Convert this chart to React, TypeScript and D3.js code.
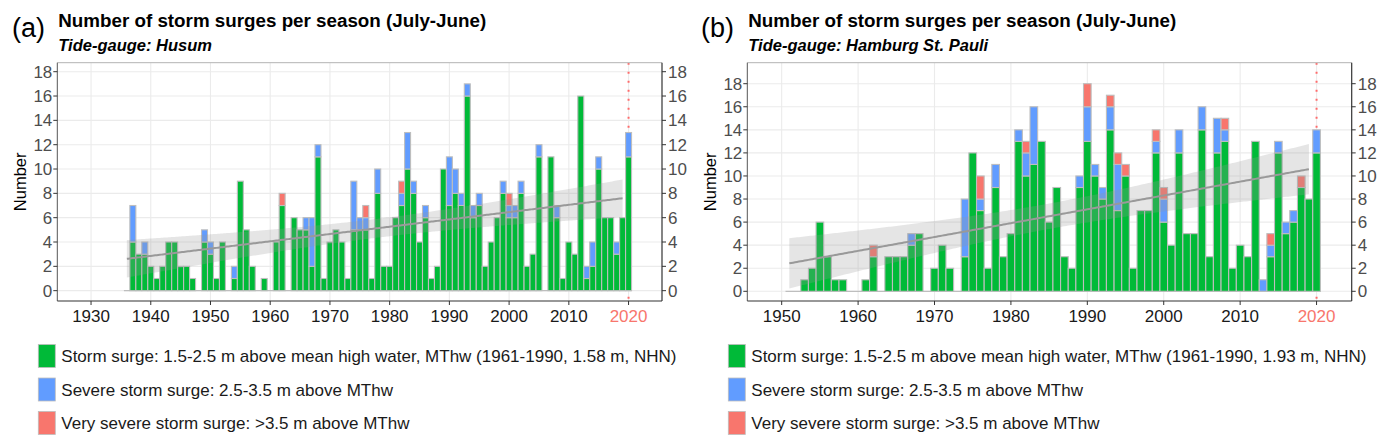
import React from 'react';
import * as d3 from 'd3';

// Husum, seasons 1936/37 .. 2020 (stacked: green, blue, red)
const yearsA = d3.range(1936, 2021);
const greenA = [0, 4, 3, 3, 2, 1, 2, 4, 4, 2, 2, 1, 0, 4, 3, 1, 4, 0, 1, 9, 5, 2, 0, 1, 0, 4, 7, 0, 6, 5,
  5, 2, 11, 1, 4, 5, 4, 1, 5, 5, 5, 1, 8, 2, 2, 6, 7, 10, 8, 4, 6, 1, 2, 10, 7, 8, 7, 16, 6, 7,
  2, 4, 6, 8, 6, 6, 8, 2, 3, 11, 0, 11, 6, 1, 4, 3, 16, 1, 2, 10, 6, 6, 3, 6, 11];
const blueA = [0, 3, 0, 1, 0, 0, 0, 0, 0, 0, 0, 0, 0, 1, 1, 0, 0, 0, 1, 0, 0, 0, 0, 0, 0, 0, 0, 0, 0, 0,
  1, 4, 1, 0, 0, 0, 0, 0, 4, 1, 1, 0, 2, 0, 0, 0, 1, 3, 1, 0, 1, 0, 0, 0, 4, 2, 1, 1, 1, 1,
  0, 0, 0, 1, 1, 1, 1, 0, 0, 1, 0, 0, 1, 0, 0, 0, 0, 1, 2, 1, 0, 0, 1, 0, 2];
const redA = [0, 0, 0, 0, 0, 0, 0, 0, 0, 0, 0, 0, 0, 0, 0, 0, 0, 0, 0, 0, 0, 0, 0, 0, 0, 0, 1, 0, 0, 0,
  0, 0, 0, 0, 0, 0, 0, 0, 0, 0, 1, 0, 0, 0, 0, 0, 1, 0, 0, 0, 0, 0, 0, 0, 0, 0, 0, 0, 0, 0,
  0, 0, 0, 0, 1, 0, 0, 0, 0, 0, 0, 0, 0, 0, 0, 0, 0, 0, 0, 0, 0, 0, 0, 0, 0];

// Hamburg St. Pauli, seasons 1951 .. 2020
const yearsB = d3.range(1951, 2021);
const greenB = [0, 0, 1, 2, 6, 3, 1, 1, 0, 0, 1, 3, 0, 3, 3, 3, 4, 5, 0, 2,
  4, 2, 0, 3, 12, 7, 2, 9, 3, 5, 13, 10, 11, 13, 6, 9, 3, 2, 9, 13,
  10, 8, 14, 7, 10, 2, 7, 7, 12, 6, 4, 12, 5, 5, 14, 3, 12, 13, 2, 4,
  3, 13, 0, 3, 12, 5, 6, 9, 8, 12];
const blueB = [0, 0, 0, 0, 0, 0, 0, 0, 0, 0, 0, 0, 0, 0, 0, 0, 1, 0, 0, 0,
  0, 0, 0, 5, 0, 1, 0, 2, 0, 0, 1, 2, 5, 0, 0, 0, 0, 0, 1, 3,
  1, 1, 2, 4, 0, 0, 0, 0, 1, 2, 0, 2, 0, 0, 2, 0, 3, 1, 0, 0,
  0, 0, 1, 1, 1, 1, 1, 0, 0, 2];
const redB = [0, 0, 0, 0, 0, 0, 0, 0, 0, 0, 0, 1, 0, 0, 0, 0, 0, 0, 0, 0,
  0, 0, 0, 0, 0, 2, 0, 0, 0, 0, 0, 1, 0, 0, 0, 0, 0, 0, 0, 2,
  0, 0, 1, 1, 1, 0, 0, 0, 1, 1, 0, 0, 0, 0, 0, 0, 0, 1, 0, 0,
  0, 0, 0, 1, 0, 0, 0, 1, 0, 0];

const xTicksA = [1930, 1940, 1950, 1960, 1970, 1980, 1990, 2000, 2010, 2020];
const xTicksB = [1950, 1960, 1970, 1980, 1990, 2000, 2010, 2020];
const yTicks = [0, 2, 4, 6, 8, 10, 12, 14, 16, 18];
const lastFitYear = 2019;
const markYear = 2020;

const legendA = [
  'Storm surge: 1.5-2.5 m above mean high water, MThw (1961-1990, 1.58 m, NHN)',
  'Severe storm surge: 2.5-3.5 m above MThw',
  'Very severe storm surge: >3.5 m above MThw',
];
const legendB = [
  'Storm surge: 1.5-2.5 m above mean high water, MThw (1961-1990, 1.93 m, NHN)',
  'Severe storm surge: 2.5-3.5 m above MThw',
  'Very severe storm surge: >3.5 m above MThw',
];

const GREEN = '#00BA38';
const BLUE = '#619CFF';
const RED = '#F8766D';
const FONT = '"Liberation Sans", Arial, sans-serif';

interface PanelProps {
  tag: string;
  gauge: string;
  years: number[];
  green: number[];
  blue: number[];
  red: number[];
  xTicks: number[];
  xDomain: [number, number];
  yDomain: [number, number];
  left: number;
  right: number;
  legend: string[];
  tagX: number;
  labelX: number;
}

const top = 62.7;
const bottom = 301;

// lm fit with 95% confidence band, like geom_smooth(method = "lm")
function fitLine(xs: number[], ys: number[]) {
  const n = xs.length;
  const mx = d3.mean(xs) as number;
  const my = d3.mean(ys) as number;
  const sxx = d3.sum(xs, (x) => (x - mx) ** 2);
  const sxy = d3.sum(xs, (x, i) => (x - mx) * (ys[i] - my));
  const b = sxy / sxx;
  const a = my - b * mx;
  const rss = d3.sum(xs, (x, i) => (ys[i] - (a + b * x)) ** 2);
  const s = Math.sqrt(rss / (n - 2));
  const t = 1.99;
  const grid = d3.range(xs[0], xs[n - 1] + 0.001, 0.25);
  return grid.map((x) => {
    const fit = a + b * x;
    const se = s * Math.sqrt(1 / n + (x - mx) ** 2 / sxx);
    return { x, fit, lo: fit - t * se, hi: fit + t * se };
  });
}

const Panel: React.FC<PanelProps> = (p) => {
  const x = d3.scaleLinear().domain(p.xDomain).range([p.left, p.right]);
  const y = d3.scaleLinear().domain(p.yDomain).range([bottom, top]);
  const totals = p.years.map((_, i) => p.green[i] + p.blue[i] + p.red[i]);
  const fitIdx = p.years.map((yr, i) => i).filter((i) => p.years[i] <= lastFitYear);
  const band = fitLine(fitIdx.map((i) => p.years[i]), fitIdx.map((i) => totals[i]));

  const area = d3.area<{ x: number; lo: number; hi: number }>()
    .x((d) => x(d.x)).y0((d) => y(d.lo)).y1((d) => y(d.hi));
  const line = d3.line<{ x: number; fit: number }>()
    .x((d) => x(d.x)).y((d) => y(d.fit));

  const clipId = `clip-${p.tag}`;
  const x0 = p.years[0] - 0.5;
  const x1 = p.years[p.years.length - 1] + 0.5;

  return (
    <g>
      <defs>
        <clipPath id={clipId}>
          <rect x={p.left} y={top} width={p.right - p.left} height={bottom - top} />
        </clipPath>
      </defs>
      <text x={p.tagX} y={37} fontSize={27} fill="#000">({p.tag})</text>
      <text x={p.left + 1} y={27} fontSize={18.8} fontWeight="bold" fill="#000">
        Number of storm surges per season (July-June)
      </text>
      <text x={p.left + 1} y={50.5} fontSize={16.5} fontWeight="bold" fontStyle="italic" fill="#000">
        Tide-gauge: {p.gauge}
      </text>

      <rect x={p.left} y={top} width={p.right - p.left} height={bottom - top} fill="#fff" />
      <g clipPath={`url(#${clipId})`}>
        {yTicks.map((t) => (
          <line key={`gy${t}`} x1={p.left} x2={p.right} y1={y(t)} y2={y(t)} stroke="#EBEBEB" strokeWidth={1.1} />
        ))}
        {p.xTicks.map((t) => (
          <line key={`gx${t}`} x1={x(t)} x2={x(t)} y1={top} y2={bottom} stroke="#EBEBEB" strokeWidth={1.1} />
        ))}
        <line x1={x(markYear)} x2={x(markYear)} y1={top} y2={bottom} stroke="#FF6B6B" strokeWidth={2} strokeDasharray="2,7" />
        <line x1={x(x0)} x2={x(x1)} y1={y(0)} y2={y(0)} stroke="#BEBEBE" strokeWidth={1.2} />
        {p.years.map((yr, i) => {
          const segs = [
            { v: p.green[i], c: GREEN, b: 0 },
            { v: p.blue[i], c: BLUE, b: p.green[i] },
            { v: p.red[i], c: RED, b: p.green[i] + p.blue[i] },
          ];
          return segs.filter((s) => s.v > 0).map((s, k) => (
            <rect key={`${yr}-${k}`} x={x(yr - 0.5)} width={x(yr + 0.5) - x(yr - 0.5)}
              y={y(s.b + s.v)} height={y(s.b) - y(s.b + s.v)}
              fill={s.c} stroke="#BEBEBE" strokeWidth={1.1} />
          ));
        })}
        <path d={area(band) || ''} fill="#999999" fillOpacity={0.25} />
        <path d={line(band) || ''} fill="none" stroke="#999999" strokeWidth={2} />
      </g>

      {/* frame */}
      <line x1={p.left} x2={p.right} y1={top} y2={top} stroke="#B3B3B3" strokeWidth={1} />
      <line x1={p.left} x2={p.left} y1={top} y2={bottom} stroke="#555" strokeWidth={1} />
      <line x1={p.left} x2={p.right} y1={bottom} y2={bottom} stroke="#333" strokeWidth={1.2} />
      <line x1={p.right} x2={p.right} y1={top} y2={bottom} stroke="#333" strokeWidth={1.2} />

      {yTicks.map((t) => (
        <g key={`ty${t}`}>
          <line x1={p.left - 4} x2={p.left} y1={y(t)} y2={y(t)} stroke="#333" />
          <text x={p.left - 5} y={y(t) + 6} textAnchor="end" fontSize={17} fill="#4D4D4D">{t}</text>
          <line x1={p.right} x2={p.right + 4} y1={y(t)} y2={y(t)} stroke="#333" />
          <text x={p.right + 6} y={y(t) + 6} fontSize={17} fill="#4D4D4D">{t}</text>
        </g>
      ))}
      {p.xTicks.map((t) => (
        <g key={`tx${t}`}>
          <line x1={x(t)} x2={x(t)} y1={bottom} y2={bottom + 4} stroke="#333" />
          <text x={x(t)} y={322} textAnchor="middle" fontSize={17}
            fill={t === markYear ? '#F8766D' : '#1a1a1a'}>{t}</text>
        </g>
      ))}
      <text transform={`translate(${p.labelX},${(top + bottom) / 2}) rotate(-90)`} textAnchor="middle"
        fontSize={16.5} fill="#000">Number</text>

      {p.legend.map((txt, i) => (
        <g key={`lg${i}`}>
          <rect x={p.left - 19} y={344.5 + i * 33.5} width={17} height={23}
            fill={[GREEN, BLUE, RED][i]} stroke="#BEBEBE" strokeWidth={0.8} />
          <text x={p.left + 4} y={362 + i * 33.5} fontSize={17} fill="#1a1a1a">{txt}</text>
        </g>
      ))}
    </g>
  );
};

export default function App() {
  return (
    <svg width={1390} height={447} style={{ position: 'absolute', left: 0, top: 0, background: '#fff' }}
      fontFamily={FONT}>
      <rect width={1390} height={447} fill="#fff" />
      <Panel tag="a" gauge="Husum" years={yearsA} green={greenA} blue={blueA} red={redA}
        xTicks={xTicksA} xDomain={[1924.35, 2025.6]} yDomain={[-0.85, 18.74]}
        left={57.3} right={662} legend={legendA} tagX={12} labelX={26} />
      <Panel tag="b" gauge="Hamburg St. Pauli" years={yearsB} green={greenB} blue={blueB} red={redB}
        xTicks={xTicksB} xDomain={[1945.5, 2024.6]} yDomain={[-0.84, 19.82]}
        left={747.3} right={1351.7} legend={legendB} tagX={701} labelX={716} />
    </svg>
  );
}
